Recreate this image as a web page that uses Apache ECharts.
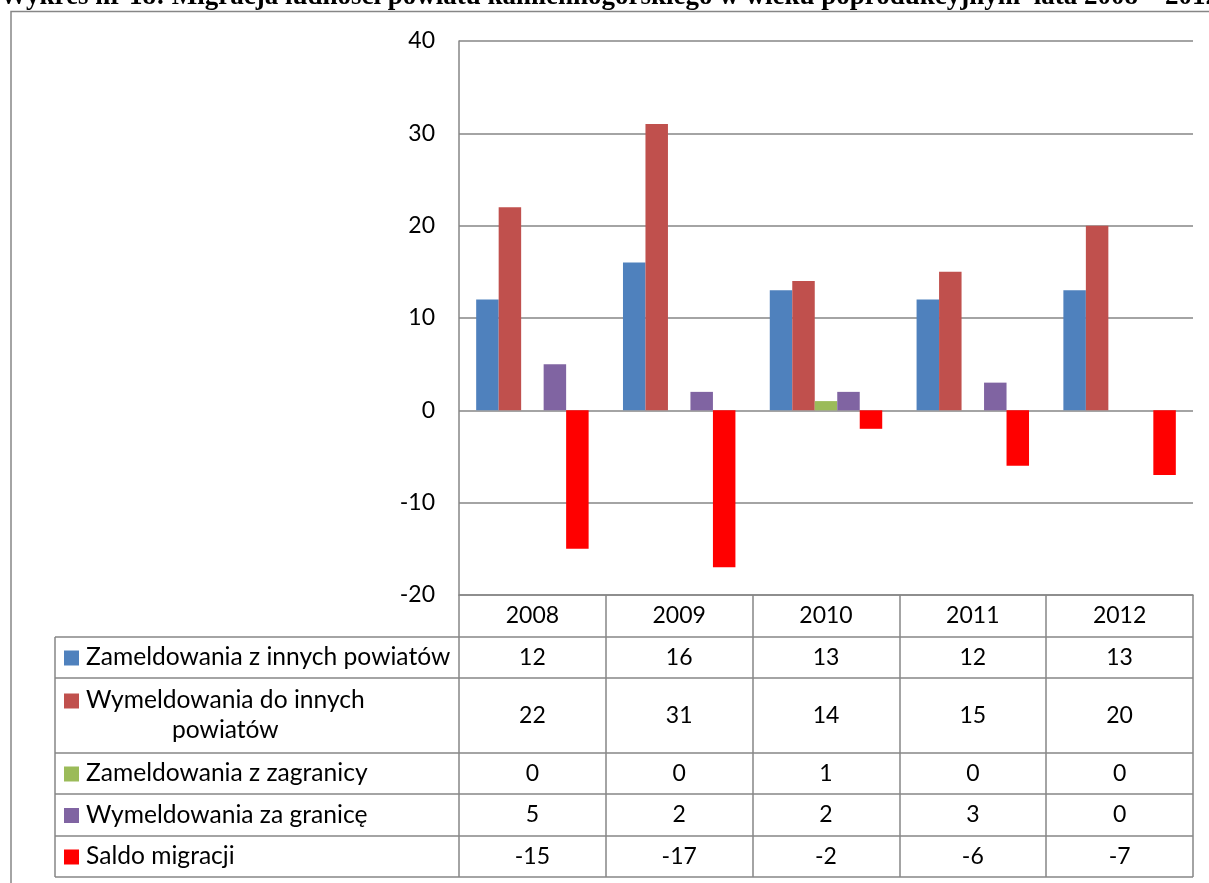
<!DOCTYPE html>
<html><head><meta charset="utf-8">
<script src="https://cdn.jsdelivr.net/npm/echarts@6/dist/echarts.min.js"></script>
<style>html,body{margin:0;padding:0;background:#fff;overflow:hidden}#c{width:1209px;height:883px}</style>
</head><body><div id="c"></div>
<script>
// ---- data ----
const years = ['2008', '2009', '2010', '2011', '2012'];
const seriesNames = ['Zameldowania z innych powiatów', 'Wymeldowania do innych powiatów', 'Zameldowania z zagranicy', 'Wymeldowania za granicę', 'Saldo migracji'];
const rowLabels = ['Zameldowania z innych powiatów', 'Wymeldowania do innych\npowiatów', 'Zameldowania z zagranicy', 'Wymeldowania za granicę', 'Saldo migracji'];
const zameldInne = [12, 16, 13, 12, 13];
const wymeldInne = [22, 31, 14, 15, 20];
const zameldZagr = [0, 0, 1, 0, 0];
const wymeldZagr = [5, 2, 2, 3, 0];
const saldo = [-15, -17, -2, -6, -7];
const titleText = 'Wykres nr 18: Migracja ludności powiatu kamiennogórskiego w wieku poprodukcyjnym  lata 2008 – 2012';

// ---- style ----
const colors = ['#4F81BD', '#C0504D', '#9BBB59', '#8064A2', '#FF0000'];
const gridCol = '#868686';
const FONT = 'Lato';
const FS = 23;
const LFS = 24.6;
const allValues = [zameldInne, wymeldInne, zameldZagr, wymeldZagr, saldo];

const chart = echarts.init(document.getElementById('c'), null, { renderer: 'canvas' });

const TABLE_LEFT = 55;
const ROW_EDGES = [637, 678, 753, 794, 836, 877];
const TABLE_BOTTOM = 877;

chart.setOption({
  animation: false,
  backgroundColor: '#fff',
  grid: { left: 459, right: 16, top: 41, bottom: 288, containLabel: false },
  xAxis: {
    type: 'category',
    data: years,
    boundaryGap: true,
    axisLine: { onZero: false, lineStyle: { color: gridCol, width: 1.5 } },
    axisTick: { show: true, length: TABLE_BOTTOM - 595, lineStyle: { color: gridCol, width: 1.5 } },
    axisLabel: { color: '#000', fontFamily: FONT, fontSize: FS, margin: 9 },
    splitLine: { show: false }
  },
  yAxis: {
    type: 'value',
    min: -20, max: 40, interval: 10,
    axisLine: { show: true, lineStyle: { color: gridCol, width: 1.5 } },
    axisTick: { show: false },
    axisLabel: { color: '#000', fontFamily: FONT, fontSize: FS, margin: 24 },
    splitLine: { show: true, lineStyle: { color: gridCol, width: 1.5 } }
  },
  series: allValues.map((vals, i) => ({
    name: seriesNames[i],
    type: 'bar',
    data: vals,
    barGap: '0%',
    barCategoryGap: '23.4%',
    itemStyle: { color: colors[i] }
  }))
});

// ---- table & decorations ----
const measure = document.createElement('canvas').getContext('2d');
measure.font = LFS + 'px ' + FONT;
const elements = [];

// outer frame
elements.push({ type: 'rect', shape: { x: 11, y: 11.5, width: 1400, height: 1000 }, style: { fill: 'none', stroke: gridCol, lineWidth: 1.5 }, silent: true });

// title (cut at top)
elements.push({ type: 'text', x: 0, y: -3, style: { text: titleText, font: 'bold 27px "Liberation Serif"', fill: '#000', textAlign: 'left', textVerticalAlign: 'middle' }, silent: true });

const xRight = chart.convertToPixel({ xAxisIndex: 0 }, years[years.length - 1]);
const catW = chart.convertToPixel({ xAxisIndex: 0 }, years[1]) - chart.convertToPixel({ xAxisIndex: 0 }, years[0]);
const tableRight = xRight + catW / 2;

// horizontal row lines
ROW_EDGES.forEach(y => {
  elements.push({ type: 'line', shape: { x1: TABLE_LEFT, y1: y, x2: tableRight, y2: y }, style: { stroke: gridCol, lineWidth: 1.5 }, silent: true });
});
// left border of label column
elements.push({ type: 'line', shape: { x1: TABLE_LEFT, y1: ROW_EDGES[0], x2: TABLE_LEFT, y2: TABLE_BOTTOM }, style: { stroke: gridCol, lineWidth: 1.5 }, silent: true });

rowLabels.forEach((lab, r) => {
  const y0 = ROW_EDGES[r], y1 = ROW_EDGES[r + 1];
  const cy = (y0 + y1) / 2;
  const lines = lab.split('\n');
  const lh = 30;
  const firstY = cy - (lines.length - 1) * lh / 2;
  // legend key
  elements.push({ type: 'rect', shape: { x: 64, y: firstY - 7, width: 15, height: 15 }, style: { fill: colors[r] }, silent: true });
  if (lines.length === 1) {
    elements.push({ type: 'text', x: 86, y: cy, style: { text: lab, font: LFS + 'px ' + FONT, fill: '#000', textAlign: 'left', textVerticalAlign: 'middle' }, silent: true });
  } else {
    const w = measure.measureText(lines[0]).width;
    const cx = 86 + w / 2;
    lines.forEach((ln, k) => {
      elements.push({ type: 'text', x: cx, y: firstY + k * lh, style: { text: ln, font: LFS + 'px ' + FONT, fill: '#000', textAlign: 'center', textVerticalAlign: 'middle' }, silent: true });
    });
  }
  // values
  years.forEach((yr, c) => {
    const x = chart.convertToPixel({ xAxisIndex: 0 }, yr);
    elements.push({ type: 'text', x: x, y: cy, style: { text: String(allValues[r][c]), font: FS + 'px ' + FONT, fill: '#000', textAlign: 'center', textVerticalAlign: 'middle' }, silent: true });
  });
});

chart.setOption({ graphic: { elements: elements } });
</script>
</body></html>
